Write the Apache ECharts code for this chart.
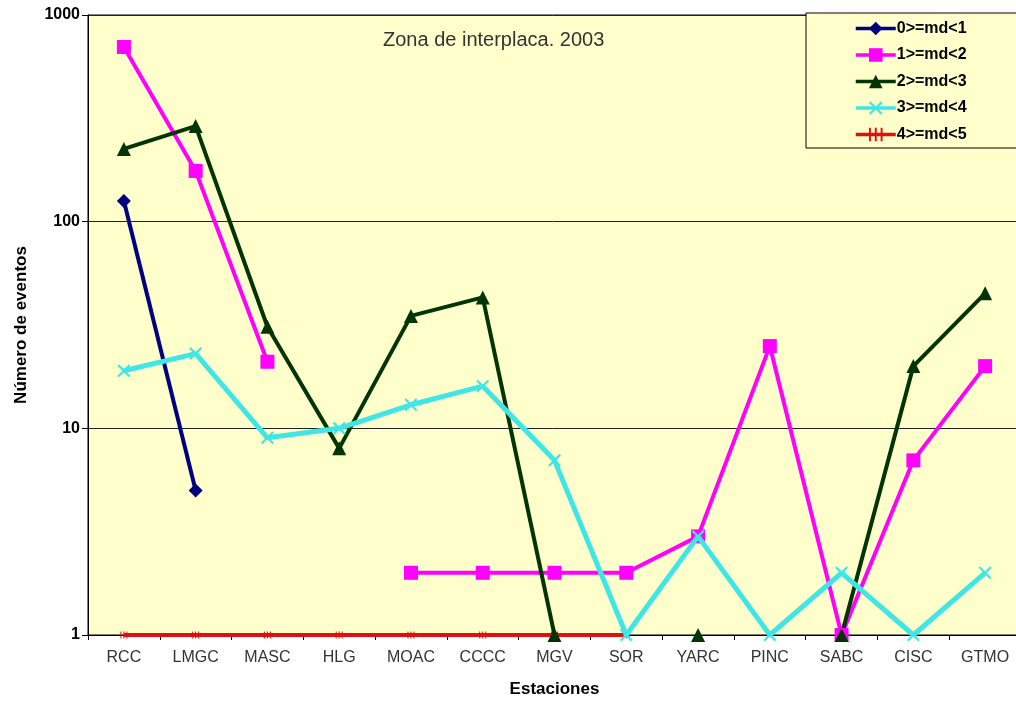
<!DOCTYPE html>
<html>
<head>
<meta charset="utf-8">
<script src="https://cdn.jsdelivr.net/npm/echarts@6/dist/echarts.min.js"></script>
<style>html,body{margin:0;padding:0;background:#fff}#c{width:1016px;height:702px}</style>
</head>
<body>
<div id="c"></div>
<script>
const categories = ['RCC','LMGC','MASC','HLG','MOAC','CCCC','MGV','SOR','YARC','PINC','SABC','CISC','GTMO'];
const seriesNames = ['0>=md<1','1>=md<2','2>=md<3','3>=md<4','4>=md<5'];
const md0 = [126, 5, null, null, null, null, null, null, null, null, null, null, null];
const md1 = [700, 176, 21, null, 2, 2, 2, 2, 3, 25, 1, 7, 20];
const md2 = [225, 290, 31, 8, 35, 43, 1, null, 1, null, 1, 20, 45];
const md3 = [19, 23, 9, 10, 13, 16, 7, 1, 3, 1, 2, 1, 2];
const md4 = [1, 1, 1, 1, 1, 1, 1, 1, null, null, null, null, null];
const yTicks = [1, 10, 100, 1000];

const FONT = 'Arial, "Liberation Sans", sans-serif';
const xSym = 'path://M0,1.2 L1.2,0 L10,8.8 L8.8,10 Z M8.8,0 L10,1.2 L1.2,10 L0,8.8 Z';
const hashSym = 'path://M0,0 L1,0 L1,10 L0,10 Z M3,0 L4,0 L4,10 L3,10 Z M6,0 L7,0 L7,10 L6,10 Z';

function mk(name, data, color, symbol, size, width, z) {
  return {
    name: name, type: 'line', data: data, symbol: symbol, symbolSize: size,
    showAllSymbol: true, connectNulls: false, z: z,
    lineStyle: { color: color, width: width },
    itemStyle: { color: color, borderWidth: 0 },
    emphasis: { disabled: true }, animation: false
  };
}

const chart = echarts.init(document.getElementById('c'));
chart.setOption({
  backgroundColor: '#ffffff',
  animation: false,
  title: {
    text: 'Zona de interplaca. 2003', left: 378, top: 25,
    textStyle: { fontFamily: FONT, fontSize: 20, fontWeight: 'normal', color: '#333' }
  },
  legend: {
    orient: 'vertical', left: 806, top: 13,
    data: seriesNames,
    backgroundColor: '#FFFFCC', borderColor: '#000', borderWidth: 1, borderRadius: 0,
    padding: [7, 60, 5, 48],
    itemWidth: 40, itemHeight: 17, itemGap: 9.5,
    lineStyle: { width: 3.5 },
    textStyle: { fontFamily: FONT, fontSize: 16, lineHeight: 17, fontWeight: 'bold', color: '#000', padding: [0,0,0,-4] }
  },
  grid: {
    left: 88, top: 15, width: 933, height: 620, outerBoundsMode: 'none',
    show: true, backgroundColor: '#FFFFCC', borderColor: '#000', borderWidth: 1
  },
  xAxis: {
    type: 'category', data: categories, boundaryGap: true,
    name: 'Estaciones', nameLocation: 'middle', nameGap: 46,
    nameTextStyle: { fontFamily: FONT, fontSize: 17, fontWeight: 'bold', color: '#000' },
    axisLine: { lineStyle: { color: '#000', width: 1 } },
    axisTick: { show: true, inside: false, length: 5, alignWithLabel: false, lineStyle: { color: '#000' } },
    axisLabel: { margin: 15, fontFamily: FONT, fontSize: 16, color: '#333', interval: 0 },
    splitLine: { show: false }
  },
  yAxis: {
    type: 'log', logBase: 10, min: 1, max: 1000,
    name: 'Número de eventos', nameLocation: 'middle', nameGap: 58, nameRotate: 90,
    nameTextStyle: { fontFamily: FONT, fontSize: 17, fontWeight: 'bold', color: '#000' },
    axisLine: { show: true, lineStyle: { color: '#000', width: 1 } },
    axisTick: { show: true, inside: false, length: 6, lineStyle: { color: '#000' } },
    axisLabel: { margin: 8, fontFamily: FONT, fontSize: 16, fontWeight: 'bold', color: '#000',
      formatter: function (v) { return yTicks.indexOf(Math.round(v)) >= 0 ? String(Math.round(v)) : ''; } },
    splitLine: { show: true, lineStyle: { color: '#222', width: 1 } },
    minorTick: { show: false }
  },
  series: [
    mk(seriesNames[0], md0, '#000080', 'diamond', 14, 4, 3),
    mk(seriesNames[1], md1, '#FF00FF', 'rect', 14, 4, 3),
    mk(seriesNames[2], md2, '#033503', 'triangle', 14, 4, 3),
    mk(seriesNames[3], md3, '#3FE6E6', xSym, 13, 5, 4),
    mk(seriesNames[4], md4, '#E01010', hashSym, 7, 4, 2)
  ]
});
</script>
</body>
</html>
